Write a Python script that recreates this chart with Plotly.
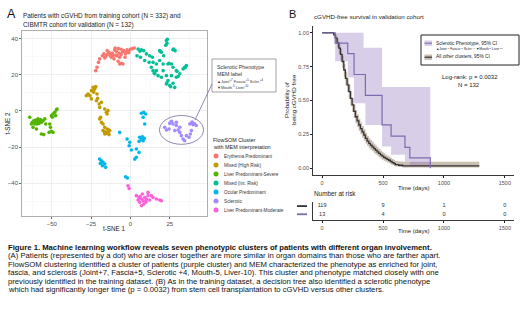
import plotly.graph_objects as go

W, H = 520, 319
FONT = "Liberation Sans, Arial, sans-serif"

def PX(x):
    return x / W

def PY(y):
    return 1 - y / H

# ---------------- Panel A data (t-SNE coordinates) ----------------
cluster_names = ["Erythema Predominant", "Mixed (High Risk)", "Liver Predominant-Severe",
                 "Mixed (Int. Risk)", "Ocular Predominant", "Sclerotic",
                 "Liver Predominant-Moderate"]
cluster_colors = ["#F8766D", "#C49A00", "#53B400", "#00C094", "#00B6EB", "#A58AFF", "#FB61D7"]

red_x = [-22.0, -21.2, -20.3, -19.5, -17.8, -16.9, -15.7, -14.8, -13.6, -12.7, -11.4, -10.0, -8.9, -8.5,
         -7.2, -6.8, -5.7, -5.1, -4.2, -3.0, -2.1, -1.3, 0.0, 1.3, 2.5, -14.8, -12.1, -10.4, -7.8, -6.8,
         -9.7, -7.6, -3.4, -2.5, -5.9, -16.3, -11.0, -4.7, -13.0, -9.2, -6.0, -1.0]
red_y = [22.4, 24.3, 27.0, 28.9, 30.7, 31.7, 30.2, 31.3, 32.6, 30.7, 32.0, 33.9, 33.1, 30.7,
         32.0, 29.8, 26.5, 32.6, 33.5, 31.7, 33.9, 33.1, 34.3, 34.6, 35.0, 33.5, 29.8, 28.9, 27.6, 26.1,
         35.0, 34.6, 29.8, 32.6, 34.3, 29.4, 30.7, 26.1, 31.5, 31.0, 31.2, 32.4]

gold_x = [-23.7, -22.7, -22.0, -24.8, -23.3, -25.8, -26.9, -21.2, -21.6, -19.9, -18.4, -16.3, -15.3,
          -14.8, -19.5, -18.4, -17.4, -16.3, -17.4, -15.7, -14.2, -13.1, -14.8, -13.6, -16.3, -28.0,
          -24.8, -19.5, -14.2, -16.5, -15.0, -14.0, -23.0, -22.5, -20.8, -18.9]
gold_y = [13.1, 12.2, 13.5, 11.3, 10.4, 8.5, 9.4, 9.4, 5.7, 3.9, 4.8, 1.1, -0.7,
          -1.7, -4.4, -6.3, -7.2, -9.1, -10.9, -11.9, -11.9, -10.9, -10.0, -13.1, -12.8, 8.5,
          6.7, 2.0, 0.2, -11.5, -12.5, -10.5, 12.0, 13.0, 7.0, -3.5]

green_x = [-64.0, -62.3, -61.4, -60.2, -58.7, -57.6, -60.8, -59.3, -58.1, -56.6, -55.5, -54.4, -61.9,
           -59.7, -56.6, -55.1, -51.3, -50.8, -50.2, -49.2, -51.7, -50.2, -49.2, -48.1, -47.0, -46.6,
           -47.5, -49.6, -62.9, -53.8, -59.0, -57.0, -60.5]
green_y = [-3.5, -6.3, -5.4, -5.0, -4.4, -5.7, -7.2, -7.2, -6.9, -6.3, -5.4, -4.4, -9.1,
           -10.0, -12.8, -13.1, -7.2, -9.1, -11.3, -11.9, -11.9, -2.6, -1.7, -0.7, 0.6, 1.1,
           -2.6, -3.5, -7.2, -7.2, -5.8, -4.8, -6.0]

teal_x = [22.9, 23.3, 22.5, 27.5, 28.4, 4.9, 7.0, 8.5, 10.2, 12.3, 14.0, 4.2, 6.4, 9.1, 11.9,
          14.4, 16.5, 18.6, 19.7, 21.2, 18.6, 20.8, 23.9, 26.1, 27.1, 29.2, 31.4, 33.5, 34.5, 35.6,
          14.4, 15.5, 17.6, 19.7, 22.9, 26.1, 29.2, 22.9, 25.0, 27.1, 23.9, 28.2, 30.3, 13.3, 16.5,
          20.8, 23.5, 27.0, 34.8, 29.6, 24.5, 19.0, 15.2, 23.2, 25.6, 6.0]
teal_y = [39.1, 37.6, 36.5, 34.4, 33.5, 34.4, 33.9, 33.5, 31.7, 30.7, 29.8, 30.7, 29.8, 28.0, 27.0,
          27.0, 26.1, 33.5, 32.6, 30.7, 28.0, 26.1, 26.1, 26.1, 24.3, 22.4, 20.6, 23.3, 24.3, 25.2,
          22.4, 20.6, 19.6, 18.7, 19.6, 19.6, 18.7, 15.0, 14.1, 15.4, 16.9, 13.1, 19.1, 24.3, 22.4,
          22.4, 39.8, 34.0, 24.0, 22.0, 26.5, 33.0, 21.0, 15.6, 13.5, 33.2]

blue_x = [7.0, 8.5, 9.7, 8.1, 9.1, 5.9, 7.0, 8.1, 5.5, 7.6, -6.8, -2.1, -0.4, -0.8, 0.6, 3.8, 5.5,
          3.8, 2.8, -19.5, -18.4, -17.4, -16.3, -15.7, -17.8, -19.1, -3.0, -1.9, 6.5, 7.5, 8.8]
blue_y = [-1.3, -0.7, -1.7, -3.5, -7.2, -14.6, -15.6, -16.5, -16.9, -14.3, -11.9, -15.6, -17.4,
          -19.3, -21.7, -21.1, -23.0, -25.7, -26.7, -26.7, -27.6, -28.5, -29.4, -31.3, -30.4, -29.1,
          -36.5, -37.2, -15.0, -16.0, -15.2]

purple_x = [25.0, 26.1, 27.1, 22.9, 24.6, 29.2, 30.3, 31.4, 32.4, 33.5, 34.5, 31.4, 37.7, 38.8, 39.8,
            40.9, 38.8, 38.1, 37.3, 29.2, 28.2, 35.6, 41.9, 21.8, 39.2, 40.2]
purple_y = [-6.9, -5.7, -7.2, -10.6, -10.0, -8.1, -10.6, -11.9, -13.7, -15.6, -16.5, -9.1, -7.2, -6.7,
            -7.6, -7.2, -10.9, -12.8, -14.6, -6.3, -10.9, -13.7, -8.1, -9.1, -6.2, -6.8]

pink_x = [-1.5, -0.8, 3.8, 5.5, 7.0, 8.1, 9.1, 10.2, 11.2, 5.9, 8.5, 12.3, 14.4, 16.5, 18.6, 19.7,
          4.9, 7.6, 9.7, 13.3, 7.0, 11.2, 6.2, 10.0]
pink_y = [-41.5, -43.0, -47.0, -48.0, -48.9, -49.8, -48.0, -48.9, -47.0, -50.7, -51.7, -49.4, -48.0,
          -48.9, -49.4, -49.8, -49.4, -46.1, -50.7, -47.0, -52.6, -45.2, -47.5, -50.0]

cluster_x = [red_x, gold_x, green_x, teal_x, blue_x, purple_x, pink_x]
cluster_y = [red_y, gold_y, green_y, teal_y, blue_y, purple_y, pink_y]

# Sclerotic highlight ellipse (data units)
ell_x = [18.5, 46.5]
ell_y = [-18.5, -2.5]

# ---------------- Panel B data (Kaplan-Meier) ----------------
t_oth = [0, 82, 95, 109, 123, 137, 150, 164, 178, 191, 205, 219, 232, 246, 260, 273, 287, 301, 314,
         328, 342, 355, 369, 383, 396, 410, 424, 437, 451, 464, 478, 492, 505, 519, 533, 546, 560,
         574, 590, 601, 628, 660, 1290]
s_oth = [1.0, 1.0, 0.985, 0.96, 0.925, 0.886, 0.84, 0.788, 0.725, 0.664, 0.615, 0.565, 0.515, 0.467,
         0.42, 0.38, 0.35, 0.319, 0.293, 0.269, 0.245, 0.22, 0.20, 0.183, 0.17, 0.158, 0.145, 0.133,
         0.121, 0.109, 0.099, 0.089, 0.08, 0.072, 0.065, 0.059, 0.05, 0.042, 0.034, 0.027, 0.022,
         0.017, 0.017]
lo_oth = [1.0, 1.0, 0.96, 0.93, 0.89, 0.845, 0.795, 0.74, 0.675, 0.612, 0.562, 0.512, 0.462, 0.415,
          0.37, 0.332, 0.303, 0.274, 0.25, 0.227, 0.205, 0.182, 0.164, 0.148, 0.136, 0.125, 0.113,
          0.102, 0.092, 0.081, 0.072, 0.063, 0.055, 0.048, 0.042, 0.037, 0.03, 0.024, 0.017, 0.012,
          0.009, 0.006, 0.006]
up_oth = [1.0, 1.0, 1.0, 0.985, 0.955, 0.922, 0.88, 0.83, 0.77, 0.712, 0.665, 0.615, 0.566, 0.518,
          0.47, 0.43, 0.398, 0.365, 0.338, 0.312, 0.288, 0.262, 0.24, 0.222, 0.208, 0.195, 0.18,
          0.167, 0.155, 0.142, 0.13, 0.12, 0.11, 0.1, 0.093, 0.087, 0.077, 0.068, 0.06, 0.054, 0.05,
          0.048, 0.048]

t_scl = [0, 107, 210, 262, 355, 492, 566, 680, 720, 888]
s_scl = [1.0, 0.923, 0.846, 0.692, 0.538, 0.32, 0.237, 0.154, 0.077, 0.0]
t_scl_ci = [0, 107, 210, 262, 340, 355, 492, 566, 680, 720, 888]
lo_scl = [1.0, 0.79, 0.67, 0.48, 0.48, 0.32, 0.16, 0.10, 0.05, 0.015, 0.015]
up_scl = [1.0, 1.0, 1.0, 1.0, 0.89, 0.89, 0.60, 0.60, 0.60, 0.60, 0.60]

risk_times = [0, 500, 1000, 1500]
risk_oth = [119, 9, 1, 0]
risk_scl = [13, 4, 0, 0]

B_x_ticks = [0, 500, 1000, 1500]
B_y_ticks = [0, 0.25, 0.5, 0.75, 1.0]
B_y_ticklabels = ["0.00", "0.25", "0.50", "0.75", "1.00"]

COL_OTH = "#333333"
COL_SCL = "#7E6BAF"
BAND_OTH = "rgba(124,93,62,0.40)"
BAND_SCL = "rgba(146,115,189,0.35)"

fig = go.Figure()

# Panel A points
for name, col, xs, ys in zip(cluster_names, cluster_colors, cluster_x, cluster_y):
    fig.add_trace(go.Scatter(x=xs, y=ys, mode="markers", name=name, showlegend=False,
                             marker=dict(color=col, size=3.6, line=dict(width=0)),
                             xaxis="x", yaxis="y", hoverinfo="skip"))

# Panel B bands
fig.add_trace(go.Scatter(x=t_oth, y=lo_oth, mode="lines", line=dict(width=0, shape="hv"),
                         showlegend=False, xaxis="x2", yaxis="y2", hoverinfo="skip"))
fig.add_trace(go.Scatter(x=t_oth, y=up_oth, mode="lines", line=dict(width=0, shape="hv"),
                         fill="tonexty", fillcolor=BAND_OTH, showlegend=False,
                         xaxis="x2", yaxis="y2", hoverinfo="skip"))
fig.add_trace(go.Scatter(x=t_scl_ci, y=lo_scl, mode="lines", line=dict(width=0, shape="hv"),
                         showlegend=False, xaxis="x2", yaxis="y2", hoverinfo="skip"))
fig.add_trace(go.Scatter(x=t_scl_ci, y=up_scl, mode="lines", line=dict(width=0, shape="hv"),
                         fill="tonexty", fillcolor=BAND_SCL, showlegend=False,
                         xaxis="x2", yaxis="y2", hoverinfo="skip"))
# Panel B lines
fig.add_trace(go.Scatter(x=t_oth, y=s_oth, mode="lines", line=dict(color=COL_OTH, width=1.3, shape="hv"),
                         showlegend=False, xaxis="x2", yaxis="y2", hoverinfo="skip"))
fig.add_trace(go.Scatter(x=t_scl, y=s_scl, mode="lines", line=dict(color=COL_SCL, width=1.2, shape="hv"),
                         showlegend=False, xaxis="x2", yaxis="y2", hoverinfo="skip"))

# Risk table
fig.add_trace(go.Scatter(x=risk_times, y=[2] * len(risk_times), mode="text",
                         text=[str(v) for v in risk_oth], textposition="middle center",
                         textfont=dict(family=FONT, size=5.6, color="#333"),
                         showlegend=False, xaxis="x3", yaxis="y3", hoverinfo="skip"))
fig.add_trace(go.Scatter(x=risk_times, y=[1] * len(risk_times), mode="text",
                         text=[str(v) for v in risk_scl], textposition="middle center",
                         textfont=dict(family=FONT, size=5.6, color="#333"),
                         showlegend=False, xaxis="x3", yaxis="y3", hoverinfo="skip"))

tickfont = dict(family=FONT, size=6, color="#4d4d4d")
tickfontB = dict(family=FONT, size=5.5, color="#4d4d4d")

layout = dict(
    width=W, height=H, margin=dict(l=0, r=0, t=0, b=0),
    paper_bgcolor="white", plot_bgcolor="white",
    xaxis=dict(domain=[PX(22), PX(207)], range=[-68.9, 48.7], tick0=0, dtick=25,
               showgrid=True, gridcolor="#EBEBEB", gridwidth=0.8,
               minor=dict(tick0=0, dtick=12.5, showgrid=True, gridcolor="#F4F4F4", gridwidth=0.5),
               zeroline=False, showline=True, mirror=True, linecolor="#9a9a9a", linewidth=0.8,
               ticks="outside", ticklen=2, tickcolor="#666", tickfont=tickfont, anchor="y"),
    yaxis=dict(domain=[PY(216), PY(31)], range=[-58.3, 44.4], tick0=0, dtick=20,
               showgrid=True, gridcolor="#EBEBEB", gridwidth=0.8,
               minor=dict(tick0=0, dtick=10, showgrid=True, gridcolor="#F4F4F4", gridwidth=0.5),
               zeroline=False, showline=True, mirror=True, linecolor="#9a9a9a", linewidth=0.8,
               ticks="outside", ticklen=2, tickcolor="#666", tickfont=tickfont, anchor="x"),
    xaxis2=dict(domain=[PX(313), PX(514)], range=[-75, 1575], tickvals=B_x_ticks,
                showgrid=False, zeroline=False, showline=True, linecolor="#222", linewidth=0.9,
                ticks="outside", ticklen=2, tickcolor="#222", tickfont=tickfontB, anchor="y2"),
    yaxis2=dict(domain=[PY(175), PY(26)], range=[-0.05, 1.05], tickvals=B_y_ticks,
                ticktext=B_y_ticklabels, showgrid=False, zeroline=False, showline=True,
                linecolor="#222", linewidth=0.9, ticks="outside", ticklen=2, tickcolor="#222",
                tickfont=tickfontB, anchor="x2"),
    xaxis3=dict(domain=[PX(313), PX(514)], range=[-75, 1575], tickvals=B_x_ticks,
                showgrid=False, zeroline=False, showline=True, linecolor="#222", linewidth=0.9,
                ticks="outside", ticklen=2, tickcolor="#222", tickfont=tickfontB, anchor="y3"),
    yaxis3=dict(domain=[PY(220), PY(202)], range=[0.3, 2.5], showgrid=False, zeroline=False,
                showline=True, linecolor="#222", linewidth=0.9, showticklabels=False, ticks="",
                anchor="x3"),
)

def T(text, x, y, size, color="#1a1a1a", xanchor="left", angle=0):
    return dict(text=text, x=PX(x), y=PY(y), xref="paper", yref="paper", showarrow=False,
                xanchor=xanchor, yanchor="middle", textangle=angle,
                font=dict(family=FONT, size=size, color=color))

ann = []
# Panel A texts
ann.append(T("A", 5, 14, 12.5, "#111"))
ann.append(T("Patients with cGVHD from training cohort (N = 332) and", 21, 16, 6.4, "#222"))
ann.append(T("CIBMTR cohort for validation (N = 132)", 21, 24.5, 6.4, "#222"))
ann.append(T("t-SNE 1", 114.5, 228.5, 6.3, "#222", "center"))
ann.append(T("t-SNE 2", 7, 123.5, 6.3, "#222", "center", -90))
# Legend A
ann.append(T("FlowSOM Cluster", 211, 139.5, 5.4, "#222"))
ann.append(T("with MEM interpretation", 211, 146.5, 5.4, "#222"))
leg_y = [156, 165, 174, 183, 192, 201, 210]
for name, ly in zip(cluster_names, leg_y):
    ann.append(T(name, 221.5, ly, 4.7, "#333"))
# Label box texts
ann.append(T("Sclerotic Phenotype", 215, 67, 5.3, "#333"))
ann.append(T("MEM label", 215, 74, 5.3, "#333"))
ann.append(T("\u25B2Joint<sup>+7</sup> Fascia<sup>+5</sup> Scler.<sup>+4</sup>", 215, 81, 4.0, "#333"))
ann.append(T("\u25BCMouth<sup>-5</sup> Liver<sup>-10</sup>", 215, 86.5, 4.0, "#333"))

# Panel B texts
ann.append(T("B", 287, 14, 11, "#111"))
ann.append(T("cGVHD-free survival in validation cohort", 312, 17, 6.2, "#222"))
ann.append(T("Probability of", 286, 100, 6.2, "#222", "center", -90))
ann.append(T("being cGVHD free", 293, 100, 6.2, "#222", "center", -90))
ann.append(T("Time (days)", 413, 187.5, 6.0, "#222", "center"))
ann.append(T("Log-rank: p = 0.0032", 470, 77, 6.0, "#222", "center"))
ann.append(T("N = 132", 469, 84.5, 6.0, "#222", "center"))
ann.append(T("Sclerotic Phenotype, 95% CI", 434, 43, 4.8, "#222"))
ann.append(T("\u25B2Joint<sup>+7</sup> Fascia<sup>+5</sup> Scler.<sup>+4</sup> \u25BCMouth<sup>-5</sup> Liver<sup>-10</sup>",
             434, 49.5, 3.4, "#222"))
ann.append(T("All other clusters, 95% CI", 434, 57, 4.8, "#222"))
ann.append(T("Number at risk", 312, 194, 6.4, "#222"))
ann.append(T("Time (days)", 413, 231, 6.0, "#222", "center"))

# Caption
cap = [
    "<b>Figure 1. Machine learning workflow reveals seven phenotypic clusters of patients with different organ involvement.</b>",
    "(A) Patients (represented by a dot) who are closer together are more similar in organ domains than those who are farther apart.",
    "FlowSOM clustering identified a cluster of patients (purple cluster) and MEM characterized the phenotype as enriched for joint,",
    "fascia, and sclerosis (Joint+7, Fascia+5, Sclerotic +4, Mouth-5, Liver-10). This cluster and phenotype matched closely with one",
    "previously identified in the training dataset. (B) As in the training dataset, a decision tree also identified a sclerotic phenotype",
    "which had significantly longer time (p = 0.0032) from stem cell transplantation to cGVHD versus other clusters.",
]
cap_y = [247, 255.5, 264, 272.5, 281, 289.5]
for line, cy in zip(cap, cap_y):
    ann.append(T(line, 6, cy, 7.7, "#111"))

layout["annotations"] = ann

shapes = []
# ellipse around sclerotic cluster
shapes.append(dict(type="circle", xref="x", yref="y", x0=ell_x[0], x1=ell_x[1], y0=ell_y[0], y1=ell_y[1],
                   line=dict(color="#8878a8", width=0.9)))
# connector line and label box
shapes.append(dict(type="line", xref="paper", yref="paper", x0=PX(195), y0=PY(120), x1=PX(212), y1=PY(84),
                   line=dict(color="#8878a8", width=0.9)))
shapes.append(dict(type="rect", xref="paper", yref="paper", x0=PX(212), y0=PY(92), x1=PX(276), y1=PY(59),
                   line=dict(color="#8a8a8a", width=0.8), fillcolor="white", layer="below"))
# legend A circles
for col, ly in zip(cluster_colors, leg_y):
    shapes.append(dict(type="circle", xref="paper", yref="paper", x0=PX(213.5), x1=PX(218.5),
                       y0=PY(ly + 2.5), y1=PY(ly - 2.5), fillcolor=col, line=dict(width=0)))
# legend B box and keys
shapes.append(dict(type="rect", xref="paper", yref="paper", x0=PX(421), y0=PY(65), x1=PX(519), y1=PY(35),
                   line=dict(color="#222", width=1), fillcolor="white", layer="below"))
shapes.append(dict(type="rect", xref="paper", yref="paper", x0=PX(424.5), y0=PY(46), x1=PX(432), y1=PY(40.5),
                   fillcolor=BAND_SCL, line=dict(width=0)))
shapes.append(dict(type="line", xref="paper", yref="paper", x0=PX(424.5), y0=PY(43.2), x1=PX(432), y1=PY(43.2),
                   line=dict(color=COL_SCL, width=1.1)))
shapes.append(dict(type="rect", xref="paper", yref="paper", x0=PX(424.5), y0=PY(60), x1=PX(432), y1=PY(54.5),
                   fillcolor=BAND_OTH, line=dict(width=0)))
shapes.append(dict(type="line", xref="paper", yref="paper", x0=PX(424.5), y0=PY(57.2), x1=PX(432), y1=PY(57.2),
                   line=dict(color=COL_OTH, width=1.2)))
# risk table strata keys
shapes.append(dict(type="line", xref="paper", yref="y3", x0=PX(297), x1=PX(307), y0=2, y1=2,
                   line=dict(color=COL_OTH, width=1.8)))
shapes.append(dict(type="line", xref="paper", yref="y3", x0=PX(297), x1=PX(307), y0=1, y1=1,
                   line=dict(color=COL_SCL, width=1.8)))
layout["shapes"] = shapes

fig.update_layout(**layout)
fig.write_html("out.html",
               config={"displayModeBar": False, "staticPlot": True},
               post_script="document.body.style.margin='0px';document.body.style.padding='0px';")
